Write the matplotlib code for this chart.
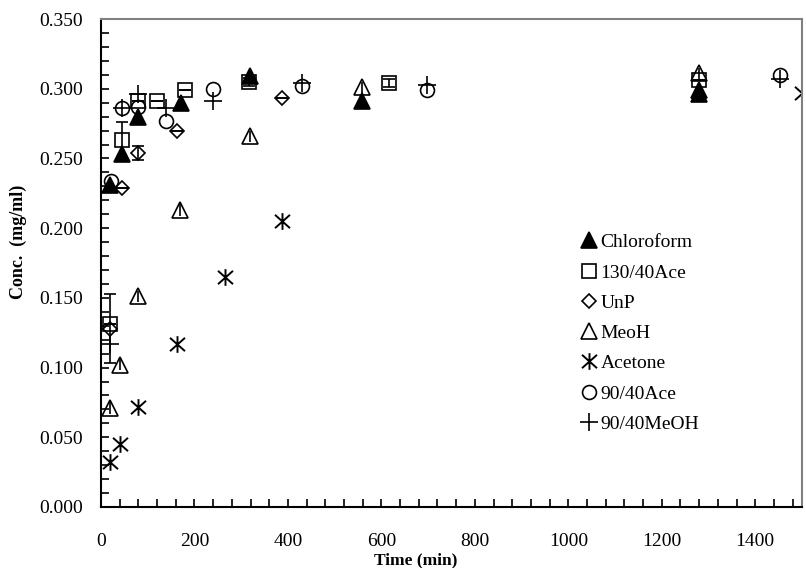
import numpy as np
import matplotlib.pyplot as plt
from matplotlib.path import Path
from matplotlib.ticker import MultipleLocator, FormatStrFormatter

plt.rcParams['font.family'] = ['Liberation Serif', 'DejaVu Serif']

# data: time (min), concentration (mg/ml), error
chl_t = [19, 44, 80, 172, 319, 559, 1280, 1280]
chl_c = [0.231, 0.253, 0.280, 0.290, 0.309, 0.291, 0.296, 0.299]

ace130_t = [20, 44, 80, 120, 180, 316, 617, 1280]
ace130_c = [0.131, 0.263, 0.291, 0.291, 0.299, 0.305, 0.304, 0.306]
ace130_e = [0.0, 0.013, 0.0, 0.0, 0.0, 0.003, 0.003, 0.0]

unp_t = [20, 44, 80, 162, 388]
unp_c = [0.128, 0.229, 0.254, 0.270, 0.293]
unp_e = [0.025, 0.0, 0.005, 0.0, 0.0]

meoh_t = [19, 41, 80, 169, 319, 559, 1280]
meoh_c = [0.071, 0.102, 0.151, 0.213, 0.266, 0.301, 0.311]
meoh_e = [0.004, 0.004, 0.004, 0.004, 0.004, 0.004, 0.004]

acetone_t = [19, 41, 80, 162, 266, 387, 1500]
acetone_c = [0.032, 0.045, 0.072, 0.117, 0.165, 0.205, 0.297]

ace90_t = [22, 44, 80, 139, 240, 430, 697, 1453]
ace90_c = [0.234, 0.286, 0.287, 0.277, 0.300, 0.302, 0.299, 0.310]

meoh90_t = [19, 44, 80, 140, 240, 431, 697, 1453]
meoh90_c = [0.117, 0.286, 0.296, 0.286, 0.291, 0.304, 0.303, 0.307]

# asterisk like the Excel one: an X with a vertical bar
star = Path([(0, -1), (0, 1), (-0.9, -0.8), (0.9, 0.8), (-0.9, 0.8), (0.9, -0.8)],
            [Path.MOVETO, Path.LINETO] * 3)

fig = plt.figure(figsize=(8.06, 5.68), dpi=100)
ax = fig.add_axes([0.1253, 0.1074, 0.8697, 0.8591])

lw = 1.2
h1, = ax.plot(chl_t, chl_c, '^', color='black', ms=11.5, mew=lw)
c2 = ax.errorbar(ace130_t, ace130_c, yerr=ace130_e, fmt='s', color='black', mfc='none',
                 ms=10, mew=lw, elinewidth=lw, capsize=4.5, capthick=lw)
c3 = ax.errorbar(unp_t, unp_c, yerr=unp_e, fmt='D', color='black', mfc='none',
                 ms=7.5, mew=lw, elinewidth=lw, capsize=4.5, capthick=lw)
c4 = ax.errorbar(meoh_t, meoh_c, yerr=meoh_e, fmt='^', color='black', mfc='none',
                 ms=11.5, mew=lw, elinewidth=lw, capsize=0)
h5, = ax.plot(acetone_t, acetone_c, ls='none', marker=star, color='black', ms=12, mew=1.4)
h6, = ax.plot(ace90_t, ace90_c, 'o', color='black', mfc='none', ms=10, mew=lw)
h7, = ax.plot(meoh90_t, meoh90_c, '+', color='black', ms=13, mew=lw)

ax.set_xlim(0, 1500)
ax.set_ylim(0, 0.35)
ax.xaxis.set_major_locator(MultipleLocator(200))
ax.xaxis.set_minor_locator(MultipleLocator(40))
ax.yaxis.set_major_locator(MultipleLocator(0.05))
ax.yaxis.set_minor_locator(MultipleLocator(0.01))
ax.yaxis.set_major_formatter(FormatStrFormatter('%.3f'))
ax.tick_params(which='both', direction='in', length=6, width=1.2, top=False, right=False)
ax.tick_params(axis='x', which='major', pad=19, labelsize=14)
ax.tick_params(axis='y', which='major', pad=13, labelsize=14)

for s in ['left', 'bottom']:
    ax.spines[s].set_linewidth(1.5)
for s in ['top', 'right']:
    ax.spines[s].set_color('#808080')
    ax.spines[s].set_linewidth(1.5)

ax.set_xlabel('Time (min)', fontsize=12.5, fontweight='bold')
ax.set_ylabel('Conc.  (mg/ml)', fontsize=13, fontweight='bold')
ax.xaxis.set_label_coords(0.449, -0.093)
ax.yaxis.set_label_coords(-0.106, 0.543)

handles = [h1, c2.lines[0], c3.lines[0], c4.lines[0], h5, h6, h7]
labels = ['Chloroform', '130/40Ace', 'UnP', 'MeoH', 'Acetone', '90/40Ace', '90/40MeOH']
ax.legend(handles, labels, loc='upper left', bbox_to_anchor=(0.721, 0.5886),
          bbox_transform=fig.transFigure, frameon=False, fontsize=14,
          handlelength=0.8, handletextpad=0.2, labelspacing=0.65, borderpad=0,
          borderaxespad=0, numpoints=1)

fig.savefig('out.png', dpi=100)
